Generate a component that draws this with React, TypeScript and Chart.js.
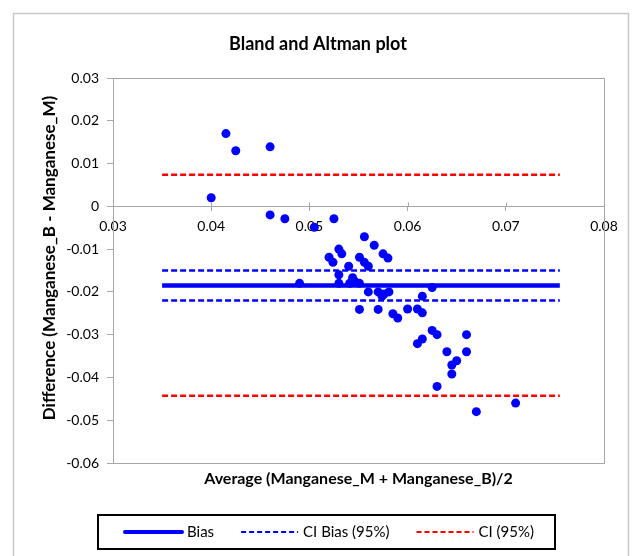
import React, { useEffect, useRef } from 'react';
import { Chart, registerables } from 'chart.js';

Chart.register(...registerables);

// ---- Data ----
const averageValues: number[] = [
  0.0400, 0.0415, 0.0425, 0.0460, 0.0460, 0.0475, 0.0505, 0.0525, 0.0556, 0.0566,
  0.0530, 0.0533, 0.0520, 0.0524, 0.0551, 0.0556, 0.0560, 0.0575, 0.0580, 0.0540,
  0.0530, 0.0544, 0.0490, 0.0530, 0.0541, 0.0551, 0.0546, 0.0560, 0.0570, 0.0576,
  0.0581, 0.0574, 0.0551, 0.0570, 0.0585, 0.0590, 0.0625, 0.0615, 0.0600, 0.0610,
  0.0615, 0.0625, 0.0630, 0.0615, 0.0610, 0.0660, 0.0640, 0.0660, 0.0650, 0.0645,
  0.0645, 0.0630, 0.0670, 0.0710,
];
const differenceValues: number[] = [
  0.0020, 0.0170, 0.0130, 0.0139, -0.0020, -0.0029, -0.0049, -0.0029, -0.0071, -0.0091,
  -0.0100, -0.0111, -0.0119, -0.0131, -0.0119, -0.0131, -0.0140, -0.0111, -0.0121, -0.0140,
  -0.0160, -0.0167, -0.0180, -0.0180, -0.0180, -0.0180, -0.0175, -0.0200, -0.0200, -0.0205,
  -0.0200, -0.0210, -0.0241, -0.0241, -0.0251, -0.0261, -0.0190, -0.0210, -0.0240, -0.0240,
  -0.0249, -0.0290, -0.0300, -0.0310, -0.0321, -0.0300, -0.0340, -0.0340, -0.0361, -0.0371,
  -0.0392, -0.0421, -0.0480, -0.0460,
];
const referenceLineSpan: number[] = [0.035, 0.0755];
const referenceLabels: string[] = ['Bias', 'CI Bias (95%)', 'CI Bias (95%)', 'CI (95%)', 'CI (95%)'];
const referenceLevels: number[] = [-0.0185, -0.0150, -0.0220, 0.0074, -0.0443];
const xTickRange: number[] = [0.03, 0.08, 0.01];
const yTickRange: number[] = [-0.06, 0.03, 0.01];

const TITLE = 'Bland and Altman plot';
const X_TITLE = 'Average (Manganese_M + Manganese_B)/2';
const Y_TITLE = 'Difference (Manganese_B - Manganese_M)';

const FONT = 'Lato, "Open Sans", sans-serif';
const AXIS_GRAY = '#a6a6a6';

const styleFor = (label: string) => {
  if (label === 'Bias') return { color: '#0000ff', dash: [] as number[], width: 4.5 };
  if (label === 'CI Bias (95%)') return { color: '#0000ff', dash: [6, 3], width: 2.5 };
  return { color: '#ff0000', dash: [6, 3], width: 2.5 };
};

const decorPlugin = {
  id: 'decor',
  beforeDatasetsDraw(chart: any) {
    const { ctx, chartArea } = chart;
    ctx.save();
    ctx.strokeStyle = AXIS_GRAY;
    ctx.lineWidth = 1;
    ctx.strokeRect(
      Math.round(chartArea.left) + 0.5,
      Math.round(chartArea.top) + 0.5,
      Math.round(chartArea.right - chartArea.left),
      Math.round(chartArea.bottom - chartArea.top)
    );
    // cross-style tick marks on x axis (upper half)
    const xs = chart.scales.x;
    const y0 = Math.round(chart.scales.y.getPixelForValue(0)) + 0.5;
    ctx.beginPath();
    xs.ticks.forEach((t: any) => {
      const px = Math.round(xs.getPixelForValue(t.value)) + 0.5;
      ctx.moveTo(px, y0 - 4);
      ctx.lineTo(px, y0);
    });
    ctx.stroke();
    ctx.restore();
  },
  afterDraw(chart: any) {
    const { ctx, chartArea } = chart;
    ctx.save();
    // outer frame
    ctx.strokeStyle = '#c8c8c8';
    ctx.lineWidth = 1.5;
    ctx.strokeRect(13.5, 13.5, 615, 620);

    ctx.fillStyle = '#000';
    // title
    ctx.font = `bold 18px ${FONT}`;
    ctx.textAlign = 'center';
    ctx.textBaseline = 'middle';
    ctx.fillText(TITLE, 318, 44);

    // x title
    ctx.font = `bold 16px ${FONT}`;
    ctx.fillText(X_TITLE, (chartArea.left + chartArea.right) / 2, 479);

    // y title
    ctx.save();
    ctx.translate(50, 258);
    ctx.rotate(-Math.PI / 2);
    ctx.font = `bold 17px ${FONT}`;
    ctx.fillText(Y_TITLE, 0, 0);
    ctx.restore();

    // legend box
    const boxL = 98, boxT = 515, boxR = 555, boxB = 549;
    ctx.strokeStyle = '#000';
    ctx.lineWidth = 2;
    ctx.strokeRect(boxL, boxT, boxR - boxL, boxB - boxT);

    const seen = new Set<string>();
    const items: string[] = [];
    chart.data.datasets.forEach((ds: any) => {
      if (ds.legend && !seen.has(ds.label)) {
        seen.add(ds.label);
        items.push(ds.label);
      }
    });
    ctx.font = `15px ${FONT}`;
    ctx.textAlign = 'left';
    ctx.textBaseline = 'middle';
    const cy = (boxT + boxB) / 2;
    let x = 125;
    items.forEach((label) => {
      const st = styleFor(label);
      ctx.save();
      ctx.strokeStyle = st.color;
      ctx.lineWidth = label === 'Bias' ? 4 : 2;
      ctx.lineCap = label === 'Bias' ? 'round' : 'butt';
      ctx.setLineDash(label === 'Bias' ? [] : [5, 3]);
      ctx.beginPath();
      ctx.moveTo(x, cy);
      ctx.lineTo(x + 57, cy);
      ctx.stroke();
      ctx.restore();
      ctx.fillStyle = '#000';
      ctx.fillText(label, x + 62, cy);
      x += 62 + ctx.measureText(label).width + 27;
    });
    ctx.restore();
  },
};

export default function App() {
  const canvasRef = useRef<HTMLCanvasElement | null>(null);

  useEffect(() => {
    if (!canvasRef.current) return;
    const lineDatasets = referenceLevels.map((level, i) => {
      const st = styleFor(referenceLabels[i]);
      return {
        type: 'line' as const,
        label: referenceLabels[i],
        legend: true,
        data: referenceLineSpan.map((x) => ({ x, y: level })),
        borderColor: st.color,
        backgroundColor: st.color,
        borderWidth: st.width,
        borderDash: st.dash,
        pointRadius: 0,
        pointHoverRadius: 0,
        fill: false,
        order: 2,
      };
    });
    const chart = new Chart(canvasRef.current, {
      type: 'scatter',
      data: {
        datasets: [
          {
            type: 'scatter' as const,
            label: 'Differences',
            data: averageValues.map((x, i) => ({ x, y: differenceValues[i] })),
            backgroundColor: '#0000ff',
            borderColor: '#0000ff',
            pointRadius: 4.5,
            pointBorderWidth: 0,
            order: 1,
          } as any,
          ...lineDatasets,
        ],
      },
      options: {
        animation: false,
        responsive: false,
        maintainAspectRatio: false,
        devicePixelRatio: 1,
        layout: { padding: { left: 0, right: 37, top: 78, bottom: 93 } },
        plugins: {
          legend: { display: false },
          title: { display: false },
          tooltip: { enabled: false },
        },
        scales: {
          x: {
            type: 'linear',
            position: { y: 0 } as any,
            min: xTickRange[0],
            max: xTickRange[1],
            ticks: {
              stepSize: xTickRange[2],
              color: '#000',
              font: { family: FONT, size: 14 },
              padding: 8,
              maxRotation: 0,
              callback: (v: any) => String(Number(Number(v).toFixed(2))),
            },
            grid: { display: true, drawOnChartArea: false, drawTicks: true, tickLength: 4, color: AXIS_GRAY },
            border: { display: true, color: AXIS_GRAY },
          },
          y: {
            type: 'linear',
            min: yTickRange[0],
            max: yTickRange[1],
            afterFit: (scale: any) => { scale.width = 113; },
            ticks: {
              stepSize: yTickRange[2],
              color: '#000',
              font: { family: FONT, size: 14 },
              padding: 8,
              callback: (v: any) => String(Number(Number(v).toFixed(2))),
            },
            grid: { display: true, drawOnChartArea: false, drawTicks: true, tickLength: 6, color: AXIS_GRAY },
            border: { display: true, color: AXIS_GRAY },
          },
        },
      },
      plugins: [decorPlugin],
    } as any);
    return () => chart.destroy();
  }, []);

  return (
    <div style={{ position: 'absolute', left: 0, top: 0, width: 641, height: 556, background: '#fff' }}>
      <canvas ref={canvasRef} width={641} height={556} style={{ width: 641, height: 556 }} />
    </div>
  );
}
